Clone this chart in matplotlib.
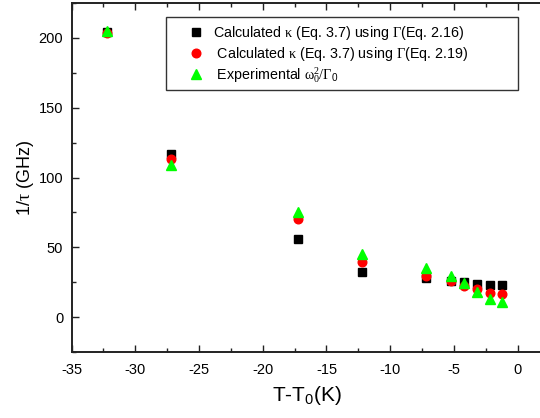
import matplotlib
matplotlib.use("Agg")
import matplotlib.pyplot as plt
from matplotlib.patches import Rectangle
from matplotlib.ticker import MultipleLocator

# Data
dT = [-32.2, -27.2, -17.2, -12.2, -7.2, -5.2, -4.2, -3.2, -2.2, -1.2]
rate_eq216 = [204.3, 116.8, 55.9, 32.6, 27.8, 26.0, 25.4, 24.0, 23.1, 22.8]
rate_eq219 = [203.8, 113.4, 70.4, 39.2, 29.7, 26.2, 22.6, 20.2, 17.6, 16.2]
rate_exp = [205.0, 108.9, 75.1, 45.4, 35.4, 29.5, 24.3, 18.1, 13.1, 10.7]

labels = [
    r"Calculated $\mathrm{\kappa}$ (Eq. 3.7) using $\mathrm{\Gamma}$(Eq. 2.16)",
    r" Calculated $\mathrm{\kappa}$ (Eq. 3.7) using $\mathrm{\Gamma}$(Eq. 2.19)",
    r" Experimental $\mathrm{\omega_0^2/\Gamma}_\mathsf{0}$",
]

plt.rcParams['font.family'] = ['Liberation Sans', 'DejaVu Sans']
plt.rcParams['mathtext.fontset'] = 'custom'
plt.rcParams['mathtext.rm'] = 'Liberation Serif'
plt.rcParams['mathtext.it'] = 'Liberation Serif:italic'
plt.rcParams['mathtext.sf'] = 'Liberation Sans'
plt.rcParams['axes.unicode_minus'] = False

W, H = 540, 418
fig = plt.figure(figsize=(W / 100, H / 100), dpi=100)
ax = fig.add_axes([71.6 / W, 66 / H, 471.5 / W, 349 / H])

ax.plot(dT, rate_eq216, 's', color='black', markersize=5.4, linestyle='none', label=labels[0])
ax.plot(dT, rate_eq219, 'o', color='red', markersize=6.2, linestyle='none', label=labels[1])
ax.plot(dT, rate_exp, '^', color='#00ff00', markersize=6.8, linestyle='none', label=labels[2])

ax.set_xlim(-35, 2)
ax.set_ylim(-25, 225)
ax.xaxis.set_major_locator(MultipleLocator(5))
ax.xaxis.set_minor_locator(MultipleLocator(2.5))
ax.yaxis.set_major_locator(MultipleLocator(50))
ax.yaxis.set_minor_locator(MultipleLocator(25))

ax.tick_params(which='both', direction='in', top=True, right=False,
               labelsize=10.5, color='#222222', width=1)
ax.tick_params(which='major', length=5)
ax.tick_params(which='minor', length=3)
ax.tick_params(axis='x', pad=8)
ax.tick_params(axis='y', pad=6)
for side in ['top', 'bottom', 'left', 'right']:
    ax.spines[side].set_linewidth(1.4)
    ax.spines[side].set_color('#222222')

ax.set_xlabel(r"T-T$_\mathsf{0}$(K)", fontsize=15, labelpad=5)
ax.set_ylabel(r"1/$\mathrm{\tau}$ (GHz)", fontsize=13, labelpad=2)

# legend frame drawn separately so the box can be wider than its entries
frame = Rectangle((166 / W, 1 - 90 / H), (517.6 - 166) / W, (90 - 16.7) / H,
                  transform=fig.transFigure, fill=True, facecolor='white',
                  edgecolor='#333333', linewidth=1.0, zorder=5)
fig.add_artist(frame)

leg = fig.legend(loc='upper left', bbox_to_anchor=(188.5 / W, 1 - 24.5 / H),
                 bbox_transform=fig.transFigure, borderaxespad=0, borderpad=0,
                 fontsize=10.3, frameon=False, handlelength=1.0,
                 handletextpad=0.68, labelspacing=0.15, numpoints=1)
leg.set_zorder(6)

fig.savefig("out.png", dpi=100)
